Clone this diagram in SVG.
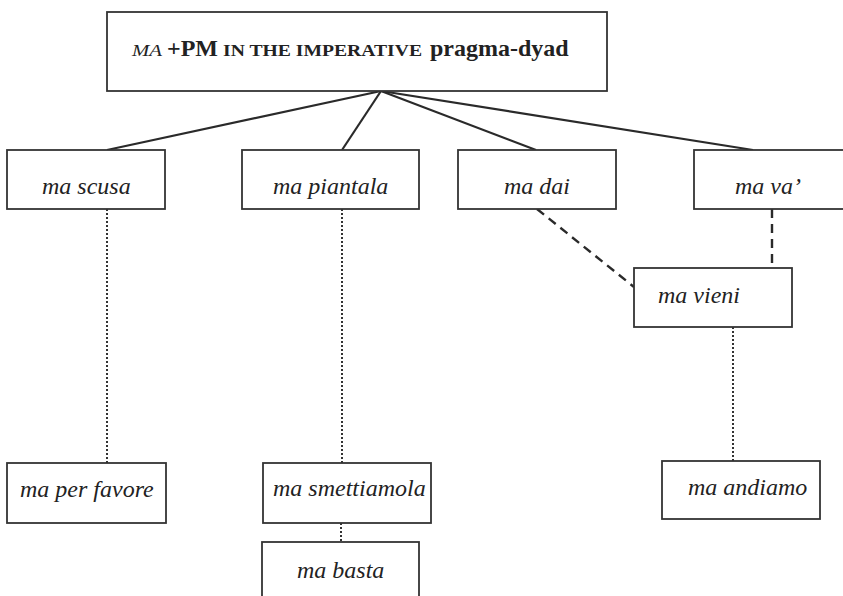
<svg xmlns="http://www.w3.org/2000/svg" width="843" height="596" viewBox="0 0 843 596">
<style>
.box{fill:#fff;stroke:#333;stroke-width:1.8}
.lbl{font-family:"Liberation Serif","Times New Roman",serif;font-style:italic;font-size:24px;fill:#222}
.title{font-family:"Liberation Serif","Times New Roman",serif;fill:#222;font-weight:bold}
.solid{stroke:#2a2a2a;stroke-width:2.2;fill:none}
.dot{stroke:#333;stroke-width:2;stroke-dasharray:2,2;fill:none}
.dash{stroke:#2a2a2a;stroke-width:2.4;stroke-dasharray:9,6;fill:none}
</style>
<rect width="843" height="596" fill="#fff"/>
<g id="connectors">
<line class="solid" x1="381" y1="91" x2="107" y2="150"/>
<line class="solid" x1="381" y1="91" x2="342" y2="150"/>
<line class="solid" x1="381" y1="91" x2="536" y2="150"/>
<line class="solid" x1="381" y1="91" x2="753" y2="150"/>
<line class="dot" x1="107" y1="209" x2="107" y2="463"/>
<line class="dot" x1="342" y1="209" x2="342" y2="463"/>
<line class="dot" x1="341" y1="523" x2="341" y2="542"/>
<line class="dot" x1="733" y1="327" x2="733" y2="461"/>
<line class="dash" x1="537" y1="209" x2="634" y2="287"/>
<line class="dash" x1="772" y1="209" x2="772" y2="268"/>
</g>
<g id="root">
<rect class="box" x="107" y="12" width="500" height="79"/>
<text class="title" y="56"><tspan x="132" font-style="italic" font-weight="normal" font-size="16.5" textLength="30" lengthAdjust="spacingAndGlyphs">MA</tspan><tspan x="167" font-size="24">+PM</tspan><tspan x="223" font-size="17.5" textLength="199" lengthAdjust="spacingAndGlyphs">IN THE IMPERATIVE</tspan><tspan x="430" font-size="24">pragma-dyad</tspan></text>
</g>
<g id="ma-scusa">
<rect class="box" x="7" y="150" width="158" height="59"/>
<text class="lbl" x="42" y="194">ma scusa</text>
</g>
<g id="ma-piantala">
<rect class="box" x="242" y="150" width="177" height="59"/>
<text class="lbl" x="273" y="194">ma piantala</text>
</g>
<g id="ma-dai">
<rect class="box" x="458" y="150" width="158" height="59"/>
<text class="lbl" x="504" y="194">ma dai</text>
</g>
<g id="ma-va">
<rect class="box" x="694" y="150" width="160" height="59"/>
<text class="lbl" x="735" y="194">ma va’</text>
</g>
<g id="ma-vieni">
<rect class="box" x="634" y="268" width="158" height="59"/>
<text class="lbl" x="658" y="303">ma vieni</text>
</g>
<g id="ma-per-favore">
<rect class="box" x="7" y="463" width="159" height="60"/>
<text class="lbl" x="20" y="497">ma per favore</text>
</g>
<g id="ma-smettiamola">
<rect class="box" x="263" y="463" width="168" height="60"/>
<text class="lbl" x="273" y="496">ma smettiamola</text>
</g>
<g id="ma-basta">
<rect class="box" x="262" y="542" width="157" height="70"/>
<text class="lbl" x="297" y="578">ma basta</text>
</g>
<g id="ma-andiamo">
<rect class="box" x="662" y="461" width="158" height="58"/>
<text class="lbl" x="688" y="495">ma andiamo</text>
</g>
</svg>
